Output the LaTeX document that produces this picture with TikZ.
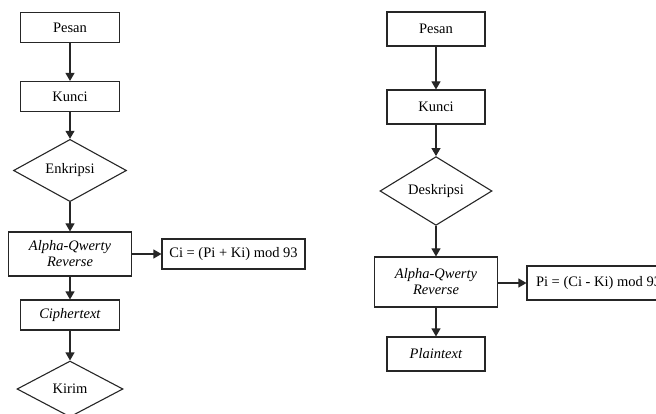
\documentclass[tikz,border=0pt]{standalone}
\usepackage{fontspec}
\setmainfont{Liberation Serif}
\usetikzlibrary{positioning, shapes.geometric, arrows.meta}

\begin{document}
\begin{tikzpicture}[x=1pt, y=-1pt, line width=1.1pt, >={Triangle[length=8pt, width=9pt]}, font=\fontsize{14.5}{16}\selectfont]
    % Define block styles
    \tikzstyle{block} = [rectangle, draw=black!85, fill=white, minimum width=99pt, minimum height=30pt, inner sep=2pt, align=center]
    \tikzstyle{decision} = [diamond, draw=black!85, fill=white, inner sep=0pt, minimum width=113pt, minimum height=60pt]
    \tikzstyle{line} = [draw=black!85, ->]

    \useasboundingbox (0,0) rectangle (656,414);

    % Place nodes (encryption)
    \node [block] (pesanA) at (70,27.5) {Pesan};
    \node [block] (kunciA) at (70,96.5) {Kunci};
    \node [decision] (enkripsi) at (70,170.5) {Enkripsi};
    \node [block, minimum width=123pt, minimum height=44pt] (alphaA) at (70,254) {\textit{Alpha-Qwerty}\\\textit{Reverse}};
    \node [block, minimum width=143pt] (rumusA) at (233.5,254) {Ci = (Pi + Ki) mod 93};
    \node [block] (cipher) at (70,315) {\textit{Ciphertext}};
    \node [decision, minimum width=106pt, minimum height=56pt] (kirim) at (70,389) {Kirim};

    % Place nodes (decryption)
    \node [block, minimum width=98pt, minimum height=34pt] (pesanB) at (436,29) {Pesan};
    \node [block, minimum width=98pt, minimum height=34pt] (kunciB) at (436,107) {Kunci};
    \node [decision, minimum width=112pt, minimum height=66pt] (deskripsi) at (436,191) {Deskripsi};
    \node [block, minimum width=123pt, minimum height=50pt] (alphaB) at (436,282) {\textit{Alpha-Qwerty}\\\textit{Reverse}};
    \node [block, minimum width=143pt, minimum height=34pt] (rumusB) at (598.5,283) {Pi = (Ci - Ki) mod 93};
    \node [block, minimum width=98pt, minimum height=34pt] (plain) at (436,354) {\textit{Plaintext}};

    % Draw connections as arrows
    \path [line] (pesanA) -- (kunciA);
    \path [line] (kunciA) -- (enkripsi);
    \path [line] (enkripsi) -- (alphaA);
    \path [line] (alphaA) -- (rumusA);
    \path [line] (alphaA) -- (cipher);
    \path [line] (cipher) -- (kirim);

    \path [line] (pesanB) -- (kunciB);
    \path [line] (kunciB) -- (deskripsi);
    \path [line] (deskripsi) -- (alphaB);
    \path [line] (alphaB.east |- rumusB) -- (rumusB);
    \path [line] (alphaB) -- (plain);
\end{tikzpicture}
\end{document}
